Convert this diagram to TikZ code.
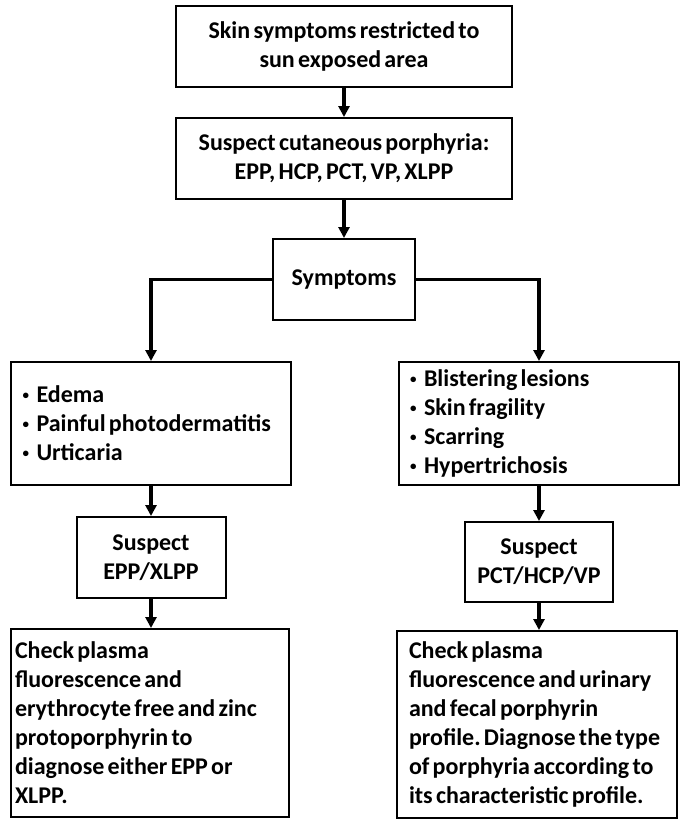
\documentclass[tikz,border=0pt]{standalone}
\usepackage{fontspec}
\setmainfont{Carlito}[WordSpace=0.6]
\usetikzlibrary{arrows.meta}
\newcommand{\bul}{\makebox[14pt][l]{\raisebox{3pt}{\fontsize{13}{13}\selectfont•}}}
\newcommand{\tline}[1]{\mbox{\spaceskip=0pt\xspaceskip=0pt\relax#1}}
\begin{document}
\begin{tikzpicture}[x=1pt,y=-1pt,
  box/.style={draw, line width=2pt, font=\fontsize{24}{29}\selectfont\bfseries\frenchspacing, inner sep=0pt},
  cbox/.style={box, align=center},
  lbox/.style={box, align=left},
  arr/.style={line width=3.5pt, -{Triangle[width=11pt,length=11pt]}}]
\useasboundingbox (0,0) rectangle (685,825);
\fill[white] (0,0) rectangle (685,825);
\node[cbox, minimum width=336pt, minimum height=81pt] (b1) at (344,46.5)
  {Skin symptoms restricted to\\sun exposed area};
\node[cbox, minimum width=336pt, minimum height=81pt] (b2) at (344,158.5)
  {Suspect cutaneous porphyria:\\EPP, HCP, PCT, VP, XLPP};
\node[cbox, minimum width=142pt, minimum height=81pt] (sym) at (344,279.5)
  {Symptoms};
\node[lbox, minimum width=280pt, minimum height=123pt, text width=257pt] (l1) at (151,423.5)
  {\tline{\bul Edema}\\\tline{\bul Painful photodermatitis}\\\tline{\bul Urticaria}};
\node[lbox, minimum width=280pt, minimum height=123pt, text width=258pt] (r1) at (539,423.5)
  {\tline{\bul Blistering lesions}\\\tline{\bul Skin fragility}\\\tline{\bul Scarring}\\\tline{\bul Hypertrichosis}};
\node[cbox, minimum width=149pt, minimum height=81pt] (l2) at (151,557.5)
  {Suspect\\EPP/XLPP};
\node[cbox, minimum width=148pt, minimum height=80pt] (r2) at (539,562)
  {Suspect\\PCT/HCP/VP};
\node[lbox, minimum width=278pt, minimum height=188pt, text width=270pt] (l3) at (150,723)
  {\tline{Check plasma}\\\tline{fluorescence and}\\\tline{erythrocyte free and zinc}\\\tline{protoporphyrin to}\\\tline{diagnose either EPP or}\\\tline{XLPP.}};
\node[lbox, minimum width=280pt, minimum height=187pt, text width=256pt] (r3) at (537,724.5)
  {\tline{Check plasma}\\\tline{fluorescence and urinary}\\\tline{and fecal porphyrin}\\\tline{profile. Diagnose the type}\\\tline{of porphyria according to}\\\tline{its characteristic profile.}};
\draw[arr] (b1) -- (b2);
\draw[arr] (b2) -- (sym);
\draw[arr] (sym.west) -| (l1.north);
\draw[arr] (sym.east) -| (r1.north);
\draw[arr] (l1) -- (l2);
\draw[arr] (r1) -- (r2);
\draw[arr] (l2) -- (l3.north -| l2.south);
\draw[arr] (r2) -- (r3.north -| r2.south);
\end{tikzpicture}
\end{document}
